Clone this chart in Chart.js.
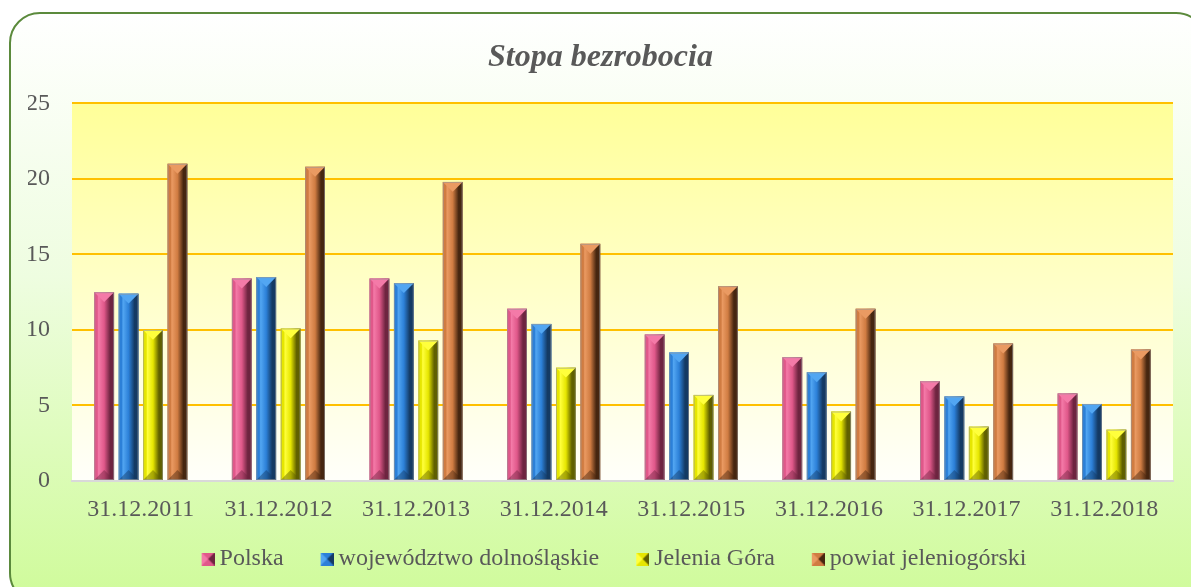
<!DOCTYPE html>
<html>
<head>
<meta charset="utf-8">
<script src="https://cdn.jsdelivr.net/npm/chart.js@4.4.0/dist/chart.umd.min.js"></script>
<style>
    html, body { margin: 0; padding: 0; background: #ffffff; }
    #wrap { width: 1191px; height: 587px; }
</style>
</head>
<body>
<div id="wrap"><canvas id="stopa" width="1191" height="587"></canvas></div>
<script>
// data
const lata = ['31.12.2011', '31.12.2012', '31.12.2013', '31.12.2014', '31.12.2015', '31.12.2016', '31.12.2017', '31.12.2018'];
const polska = [12.5, 13.4, 13.4, 11.4, 9.7, 8.2, 6.6, 5.8];
const dolnoslaskie = [12.4, 13.5, 13.1, 10.4, 8.5, 7.2, 5.6, 5.1];
const jeleniaGora = [10.0, 10.1, 9.3, 7.5, 5.7, 4.6, 3.6, 3.4];
const powiat = [21.0, 20.8, 19.8, 15.7, 12.9, 11.4, 9.1, 8.7];
const yTicks = [0, 5, 10, 15, 20, 25];

// colours for each series: base, light, dark
const kolory = [
    { base: '#e0588a', light: '#f47aa8', dark: '#6e2440' },
    { base: '#2c80d8', light: '#52a6f2', dark: '#143a64' },
    { base: '#e6e600', light: '#ffff3c', dark: '#606000' },
    { base: '#d07c42', light: '#ea9a62', dark: '#462610' }
];

const FONT = '"Liberation Serif", "Times New Roman", serif';
const MARKER_BOX = 33;

// face gradient for a bevelled bar
const faceFill = (ctx, left, right, k) => {
    const g = ctx.createLinearGradient(left, 0, right, 0);
    g.addColorStop(0, k.base);
    g.addColorStop(0.15, k.base);
    g.addColorStop(0.22, k.light);
    g.addColorStop(0.5, k.base);
    g.addColorStop(0.8, k.dark);
    g.addColorStop(1, k.dark);
    return g;
};

const drawBevel = (ctx, left, right, top, bottom, k) => {
    const w = right - left;
    const cx = left + w / 2;
    const b = Math.min(w / 2, (bottom - top) / 2);
    ctx.fillStyle = faceFill(ctx, left, right, k);
    ctx.fillRect(left, top, w, bottom - top);
    // top facet
    ctx.fillStyle = k.light;
    ctx.beginPath();
    ctx.moveTo(left, top);
    ctx.lineTo(right, top);
    ctx.lineTo(cx, top + b);
    ctx.closePath();
    ctx.fill();
    // bottom facet
    ctx.fillStyle = k.dark;
    ctx.globalAlpha = 0.45;
    ctx.beginPath();
    ctx.moveTo(left, bottom);
    ctx.lineTo(right, bottom);
    ctx.lineTo(cx, bottom - b);
    ctx.closePath();
    ctx.fill();
    ctx.globalAlpha = 1;
    ctx.strokeStyle = 'rgba(150,150,150,0.6)';
    ctx.lineWidth = 1;
    ctx.strokeRect(left + 0.5, top + 0.5, w - 1, bottom - top - 1);
};

// legend marker: a 13px bevelled square at the right end of a wider transparent canvas
const marker = (k) => {
    const c = document.createElement('canvas');
    c.width = MARKER_BOX + 14;
    c.height = 13;
    const cx = c.getContext('2d');
    const o = c.width - 13;
    cx.fillStyle = k.base;
    cx.fillRect(o, 0, 13, 13);
    cx.fillStyle = k.light;
    cx.beginPath(); cx.moveTo(o, 0); cx.lineTo(o + 6.5, 6.5); cx.lineTo(o, 13); cx.closePath(); cx.fill();
    cx.fillStyle = k.dark;
    cx.beginPath(); cx.moveTo(o + 13, 0); cx.lineTo(o + 6.5, 6.5); cx.lineTo(o + 13, 13); cx.closePath(); cx.fill();
    return c;
};

const tlo = {
    id: 'tlo',
    beforeDraw(chart) {
        const { ctx, chartArea: a } = chart;
        ctx.save();
        const g = ctx.createLinearGradient(0, 13, 0, 600);
        g.addColorStop(0, '#ffffff');
        g.addColorStop(0.45, '#eefde0');
        g.addColorStop(1, '#cffb9a');
        ctx.fillStyle = g;
        ctx.beginPath();
        ctx.roundRect(10, 13, 1196, 590, 30);
        ctx.fill();
        ctx.strokeStyle = '#5b8a3c';
        ctx.lineWidth = 2;
        ctx.stroke();
        const p = ctx.createLinearGradient(0, a.top, 0, a.bottom);
        p.addColorStop(0, '#ffff99');
        p.addColorStop(1, '#fffffa');
        ctx.fillStyle = p;
        ctx.fillRect(a.left, a.top, a.right - a.left, a.bottom - a.top);
        ctx.restore();
    }
};

const bevel = {
    id: 'bevel',
    afterDatasetsDraw(chart) {
        const ctx = chart.ctx;
        ctx.save();
        chart.data.datasets.forEach((ds, i) => {
            const meta = chart.getDatasetMeta(i);
            meta.data.forEach((bar) => {
                const left = bar.x - bar.width / 2;
                const right = bar.x + bar.width / 2;
                drawBevel(ctx, left, right, bar.y, bar.base, kolory[i]);
            });
        });
        ctx.restore();
    }
};

const seria = (label, data, k) => ({
    label: label,
    data: data,
    backgroundColor: k.base,
    borderWidth: 0,
    pointStyle: marker(k),
    categoryPercentage: 0.71,
    barPercentage: 0.81
});

new Chart(document.getElementById('stopa'), {
    type: 'bar',
    data: {
        labels: lata,
        datasets: [
            seria('Polska', polska, kolory[0]),
            seria('województwo dolnośląskie', dolnoslaskie, kolory[1]),
            seria('Jelenia Góra', jeleniaGora, kolory[2]),
            seria('powiat jeleniogórski', powiat, kolory[3])
        ]
    },
    options: {
        responsive: false,
        devicePixelRatio: 1,
        animation: false,
        layout: { padding: { left: 28, right: 18, top: 0, bottom: 6 } },
        plugins: {
            title: {
                display: true,
                text: 'Stopa bezrobocia',
                color: '#595959',
                font: { family: FONT, size: 32, style: 'italic', weight: 'bold' },
                padding: { top: 39, bottom: 26 }
            },
            legend: {
                position: 'bottom',
                labels: {
                    usePointStyle: true,
                    pointStyleWidth: MARKER_BOX,
                    color: '#595959',
                    font: { family: FONT, size: 24 },
                    padding: 10
                }
            },
            tooltip: { enabled: false }
        },
        scales: {
            x: {
                grid: { display: false },
                border: { color: '#d9d9d9', width: 2 },
                afterFit: (s) => { s.height = 56; },
                ticks: {
                    color: '#595959',
                    font: { family: FONT, size: 24 },
                    padding: 6,
                    maxRotation: 0
                }
            },
            y: {
                min: 0,
                max: 25,
                afterBuildTicks: (s) => { s.ticks = yTicks.map(v => ({ value: v })); },
                afterFit: (s) => { s.width = 44; },
                grid: { color: '#ffc000', lineWidth: 2, drawTicks: false },
                border: { display: false },
                ticks: {
                    color: '#595959',
                    font: { family: FONT, size: 24 },
                    padding: 22
                }
            }
        }
    },
    plugins: [tlo, bevel]
});
</script>
</body>
</html>
